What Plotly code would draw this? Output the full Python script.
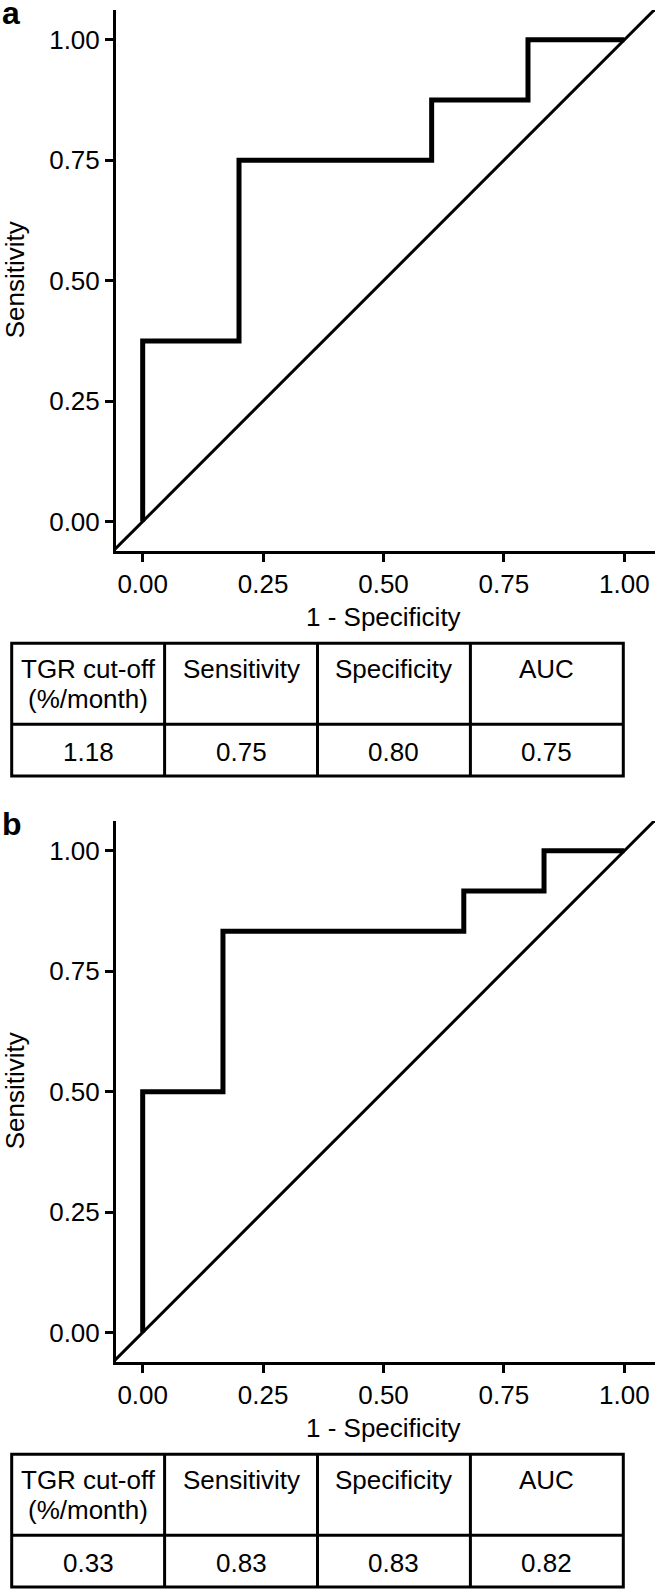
import plotly.graph_objects as go

# ---------------- data ----------------
tick_vals = [0, 0.25, 0.5, 0.75, 1.0]
tick_text = ["0.00", "0.25", "0.50", "0.75", "1.00"]

# ROC curve (a): 1 - specificity / sensitivity at successive thresholds
fpr_a = [0, 0, 0.2, 0.6, 0.8, 1.0]
tpr_a = [0, 0.375, 0.75, 0.875, 1.0, 1.0]

# ROC curve (b)
fpr_b = [0, 0, 0.1667, 0.6667, 0.8333, 1.0]
tpr_b = [0, 0.5, 0.8333, 0.9167, 1.0, 1.0]

table_headers = ["TGR cut-off<br>(%/month)", "Sensitivity", "Specificity", "AUC"]
table_a_values = ["1.18", "0.75", "0.80", "0.75"]
table_b_values = ["0.33", "0.83", "0.83", "0.82"]

panel_labels = ["a", "b"]
x_title = "1 - Specificity"
y_title = "Sensitivity"

# ---------------- layout constants (pixels) ----------------
W, H = 657, 1592
FONT = "Liberation Sans, Arial, Helvetica, sans-serif"
FS = 26
PANEL_DY = 811
PLOT_L, PLOT_R, PLOT_T, PLOT_B = 116, 655, 10, 550.7
X_RANGE = [-0.0554, 1.0637]
Y_RANGE = [-0.0605, 1.062]
TBL_L, TBL_R, TBL_T, TBL_M, TBL_B = 11.7, 623.3, 643.3, 724.3, 776.0
HEAD_LINE1, LINE_GAP = 668.5, 30


def px(xp):
    return xp / W


def py(yp):
    return 1 - yp / H


fig = go.Figure()
shapes = []
annotations = []

panels = [(fpr_a, tpr_a, table_a_values), (fpr_b, tpr_b, table_b_values)]
diag_lo = min(X_RANGE[0], Y_RANGE[0]) - 0.05
diag_hi = max(X_RANGE[1], Y_RANGE[1]) + 0.05

for i, (fpr, tpr, tvals) in enumerate(panels):
    dy = i * PANEL_DY
    sfx = "" if i == 0 else str(i + 1)
    xa, ya = "x" + sfx, "y" + sfx

    fig.add_trace(go.Scatter(x=[diag_lo, diag_hi], y=[diag_lo, diag_hi], mode="lines",
                             line=dict(color="black", width=3), xaxis=xa, yaxis=ya,
                             showlegend=False, hoverinfo="skip"))
    fig.add_trace(go.Scatter(x=fpr, y=tpr, mode="lines",
                             line=dict(color="black", width=5, shape="hv"),
                             xaxis=xa, yaxis=ya, showlegend=False))

    axis_common = dict(showline=True, linecolor="black", linewidth=3, ticks="outside",
                       ticklen=8, tickwidth=3, tickcolor="black", showgrid=False,
                       zeroline=False, tickvals=tick_vals, ticktext=tick_text,
                       automargin=False,
                       tickfont=dict(family=FONT, size=FS, color="black"), fixedrange=True)
    fig.update_layout(**{
        "xaxis" + sfx: dict(domain=[px(PLOT_L), px(PLOT_R)], range=X_RANGE, anchor=ya,
                            **axis_common),
        "yaxis" + sfx: dict(domain=[py(PLOT_B + dy), py(PLOT_T + dy)], range=Y_RANGE,
                            anchor=xa, **axis_common),
    })

    # axis titles
    annotations.append(dict(x=px(383), y=py(616.7 + dy), xref="paper", yref="paper",
                            text=x_title, showarrow=False, xanchor="center", yanchor="middle",
                            font=dict(family=FONT, size=FS, color="black")))
    annotations.append(dict(x=px(15), y=py((PLOT_T + PLOT_B) / 2 + dy), xref="paper",
                            yref="paper", text=y_title, textangle=-90, showarrow=False,
                            xanchor="center", yanchor="middle",
                            font=dict(family=FONT, size=FS, color="black")))
    # panel label
    annotations.append(dict(x=px(1), y=py(13 + dy), xref="paper", yref="paper",
                            text="<b>%s</b>" % panel_labels[i], showarrow=False,
                            xanchor="left", yanchor="middle", borderpad=0,
                            font=dict(family=FONT, size=32, color="black")))

    # table
    ncol = len(table_headers)
    cw = (TBL_R - TBL_L) / ncol
    shapes.append(dict(type="rect", xref="paper", yref="paper",
                       x0=px(TBL_L), x1=px(TBL_R), y0=py(TBL_T + dy), y1=py(TBL_B + dy),
                       line=dict(color="black", width=3)))
    shapes.append(dict(type="line", xref="paper", yref="paper",
                       x0=px(TBL_L), x1=px(TBL_R), y0=py(TBL_M + dy), y1=py(TBL_M + dy),
                       line=dict(color="black", width=3)))
    for c in range(1, ncol):
        xc = TBL_L + c * cw
        shapes.append(dict(type="line", xref="paper", yref="paper",
                           x0=px(xc), x1=px(xc), y0=py(TBL_T + dy), y1=py(TBL_B + dy),
                           line=dict(color="black", width=3)))
    for c in range(ncol):
        xc = TBL_L + (c + 0.5) * cw
        for k, line in enumerate(table_headers[c].split("<br>")):
            annotations.append(dict(x=px(xc), y=py(HEAD_LINE1 + k * LINE_GAP + dy),
                                    xref="paper", yref="paper", text=line, showarrow=False,
                                    xanchor="center", yanchor="middle",
                                    font=dict(family=FONT, size=FS, color="black")))
        annotations.append(dict(x=px(xc), y=py((TBL_M + TBL_B) / 2 + 1.5 + dy),
                                xref="paper", yref="paper", text=tvals[c], showarrow=False,
                                xanchor="center", yanchor="middle",
                                font=dict(family=FONT, size=FS, color="black")))

fig.update_layout(width=W, height=H, margin=dict(l=0, r=0, t=0, b=0),
                  paper_bgcolor="white", plot_bgcolor="white",
                  shapes=shapes, annotations=annotations, showlegend=False)

# remove the browser's default 8px body margin so the figure sits at the page origin
fig.write_html("out.html", config={"displayModeBar": False},
               post_script="document.body.style.margin='0px';")
